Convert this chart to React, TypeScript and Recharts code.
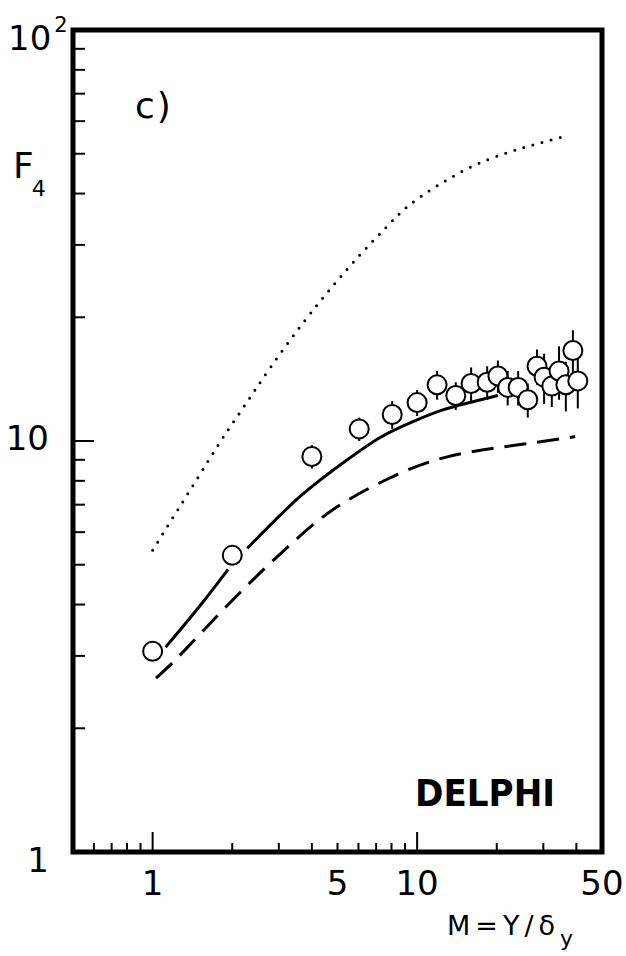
import { ComposedChart, ErrorBar, Line, ReferenceArea, Scatter, XAxis, YAxis } from "recharts";

// DELPHI F4 factorial moment vs M (log-log), panel c)
const pointX = [1, 2, 4, 6.04, 8.05, 10, 11.9, 14, 16, 18.4, 20.2, 22, 24.1, 26.2, 28.4, 30.2, 32.3, 34.4, 36.5, 38.8, 40.5];
const pointY = [3.08, 5.27, 9.17, 10.7, 11.6, 12.4, 13.7, 12.9, 13.8, 13.9, 14.4, 13.5, 13.5, 12.6, 15.2, 14.3, 13.6, 14.8, 13.7, 16.6, 14.0];
const pointErr = [0, 0, 0.6, 0.7, 0.9, 0.9, 1.1, 1.0, 1.3, 1.3, 1.3, 1.3, 1.3, 1.2, 1.5, 2.0, 1.5, 2.2, 1.9, 2.0, 2.0];

// solid curve (split where it breaks around the M=2 point)
const solidAX = [1.12, 1.5, 1.93];
const solidAY = [3.15, 3.95, 4.87];
const solidBX = [2.28, 3.62, 5.44, 7.25, 9.5, 12.5, 15.4, 17.4, 20.2];
const solidBY = [5.48, 7.34, 9.0, 10.2, 11.1, 11.9, 12.35, 12.6, 12.9];

const dashedX = [1.03, 1.28, 2.02, 3.23, 4.83, 7.7, 13.0, 24.5, 39.6];
const dashedY = [2.65, 3.03, 4.12, 5.51, 6.82, 8.07, 9.15, 9.8, 10.25];

const dottedX = [1.0, 1.61, 1.92, 2.21, 2.79, 3.71, 4.82, 6.12, 7.6, 9.25, 12.0, 16.2, 22.1, 28.8, 37.5];
const dottedY = [5.42, 8.87, 10.6, 12.1, 15.1, 19.4, 23.9, 28.5, 33.0, 37.3, 41.9, 46.6, 50.4, 53.0, 55.5];

const xTicks = [0.6, 0.7, 0.8, 0.9, 1, 2, 3, 4, 5, 6, 7, 8, 9, 10, 20, 30, 40, 50];
const xMajor = [1, 10];
const xLabels: Record<number, string> = { 1: "1", 5: "5", 10: "10", 50: "50" };
const yTicks = [1, 2, 3, 4, 5, 6, 7, 8, 9, 10, 20, 30, 40, 50, 60, 70, 80, 90, 100];
const yMajor = [10];

const FONT = "'DejaVu Sans', sans-serif";

const zip = (xs: number[], ys: number[]) => xs.map((x, i) => ({ x, y: ys[i] }));

const points = pointX.map((x, i) => ({ x, y: pointY[i], err: pointErr[i] }));
const solidA = zip(solidAX, solidAY);
const solidB = zip(solidBX, solidBY);
const dashed = zip(dashedX, dashedY);
const dotted = zip(dottedX, dottedY);

function XTick({ x, y, payload }: any) {
  const v = payload.value;
  const len = xMajor.includes(v) ? 20 : 9;
  return (
    <g>
      {v !== 50 && <line x1={x} x2={x} y1={y} y2={y - len} stroke="#000" strokeWidth={2} />}
      {xLabels[v] && (
        <text x={x} y={y + 43} textAnchor="middle" fontSize={34} fontFamily={FONT} fill="#000">
          {xLabels[v]}
        </text>
      )}
    </g>
  );
}

const yLabelDy: Record<number, number> = { 1: 20, 10: 9 };

function YTick({ x, y, payload }: any) {
  const v = payload.value;
  const len = yMajor.includes(v) ? 21 : 12;
  return (
    <g>
      {v !== 1 && v !== 100 && <line x1={x} x2={x + len} y1={y} y2={y} stroke="#000" strokeWidth={2} />}
      {v === 100 && (
        <text x={8} y={y + 20} fontSize={34} fontFamily={FONT} fill="#000">
          10
          <tspan dx={3} dy={-18} fontSize={21}>
            2
          </tspan>
        </text>
      )}
      {(v === 1 || v === 10) && (
        <text x={x - 24} y={y + yLabelDy[v]} textAnchor="end" fontSize={34} fontFamily={FONT} fill="#000">
          {String(v)}
        </text>
      )}
    </g>
  );
}

function Ring({ cx, cy }: any) {
  return <circle cx={cx} cy={cy} r={9.5} fill="#fff" stroke="#000" strokeWidth={2} />;
}

export default function App() {
  return (
    <div style={{ position: "absolute", left: 0, top: 0, width: 626, height: 956, background: "#fff" }}>
      <ComposedChart width={626} height={956} margin={{ top: 30, right: 24, bottom: 74, left: 13 }}>
        <XAxis
          dataKey="x"
          type="number"
          scale="log"
          domain={[0.5, 50]}
          allowDataOverflow
          ticks={xTicks}
          interval={0}
          height={30}
          tickSize={0}
          tickMargin={0}
          axisLine={false}
          tickLine={false}
          tick={<XTick />}
        />
        <YAxis
          dataKey="y"
          type="number"
          scale="log"
          domain={[1, 100]}
          allowDataOverflow
          ticks={yTicks}
          interval={0}
          width={60}
          tickSize={0}
          tickMargin={0}
          axisLine={false}
          tickLine={false}
          tick={<YTick />}
        />
        <ReferenceArea x1={0.5} x2={50} y1={1} y2={100} fill="none" stroke="#000" strokeWidth={5} ifOverflow="visible" />
        <Line data={dotted} dataKey="y" type="natural" stroke="#000" strokeWidth={3} strokeLinecap="round" strokeDasharray="0 9.5" dot={false} isAnimationActive={false} />
        <Line data={dashed} dataKey="y" type="natural" stroke="#000" strokeWidth={3} strokeDasharray="22 11" dot={false} isAnimationActive={false} />
        <Line data={solidA} dataKey="y" type="natural" stroke="#000" strokeWidth={3} dot={false} isAnimationActive={false} />
        <Line data={solidB} dataKey="y" type="natural" stroke="#000" strokeWidth={3} dot={false} isAnimationActive={false} />
        <Scatter data={points} dataKey="y" shape={<Ring />} isAnimationActive={false}>
          <ErrorBar dataKey="err" direction="y" width={0} stroke="#000" strokeWidth={2} isAnimationActive={false} />
        </Scatter>
        <text x={135} y={118} fontSize={36} fontFamily={FONT} letterSpacing={2} fill="#000">c)</text>
        <text x={13} y={178} fontSize={36} fontFamily={FONT} fill="#000">
          F
          <tspan dx={-2} dy={18} fontSize={22}>4</tspan>
        </text>
        <text x={447} y={935} fontSize={27} fontFamily={FONT} letterSpacing={5} fill="#000">
          M=Y/δ
          <tspan dx={0} dy={11} fontSize={22} letterSpacing={0}>y</tspan>
        </text>
        <text x={415} y={806} fontSize={38} fontWeight="bold" fontFamily={FONT} textLength={140} lengthAdjust="spacingAndGlyphs" fill="#000">DELPHI</text>
      </ComposedChart>
    </div>
  );
}
